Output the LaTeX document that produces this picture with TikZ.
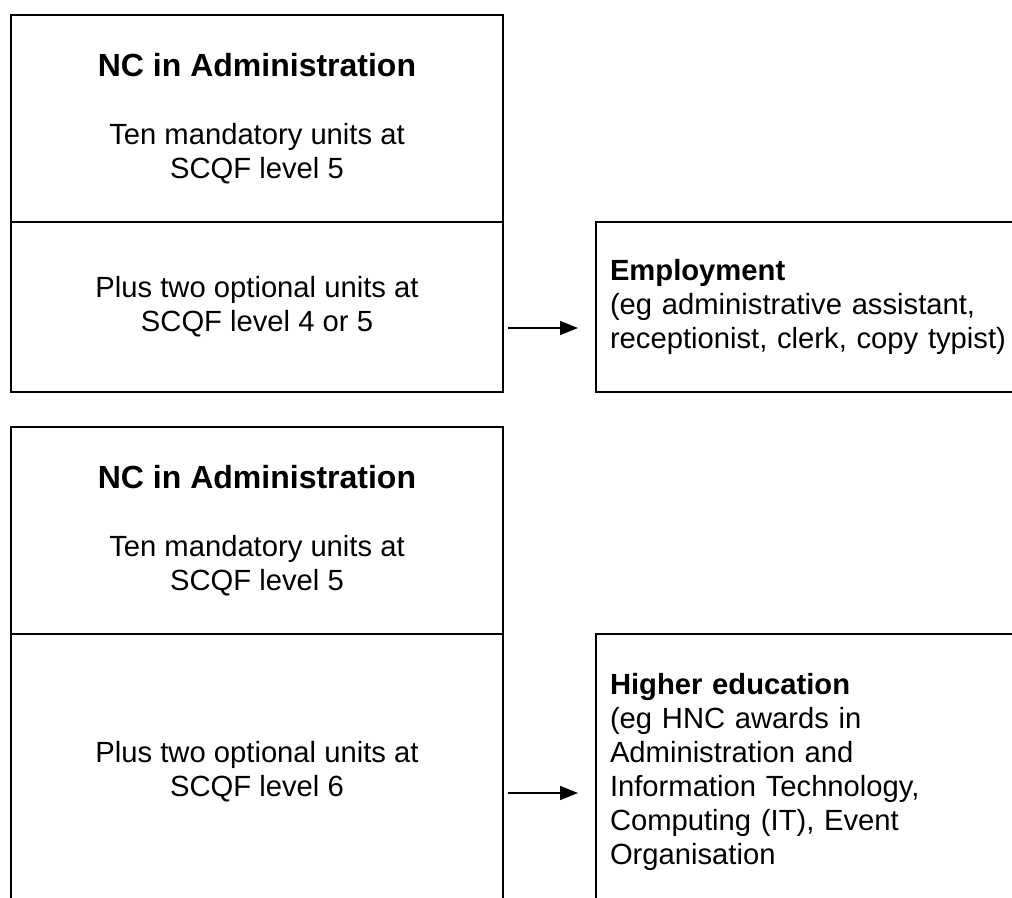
\documentclass[tikz,border=0pt]{standalone}
\usepackage{fontspec}
\setmainfont{Liberation Sans}
\usetikzlibrary{arrows.meta,positioning}

\tikzset{
  part/.style={draw, line width=1.1pt, inner sep=0pt, outer sep=0pt,
    minimum width=246pt, align=center, anchor=north west,
    font=\fontsize{14.6}{17}\selectfont},
  route/.style={draw, line width=1.1pt, inner xsep=7pt, inner ysep=0pt,
    outer sep=0pt, text width=208pt, align=left, anchor=north west,
    font=\fontsize{14.6}{17}\selectfont},
  flow/.style={-{Triangle[length=9pt,width=7pt]}, line width=0.8pt}
}
\newcommand{\awardname}{{\fontsize{16}{17}\selectfont\bfseries NC in Administration}}

\begin{document}
\begin{tikzpicture}[x=0.5pt,y=-0.5pt]
	\path[use as bounding box, clip] (0,0) rectangle (1012,898);
	% route into employment
	\node[part, minimum height=103.5pt] (coreA) at (11,15) {\awardname\\[17pt]Ten mandatory units at\\SCQF level 5};
	\node[part, minimum height=85pt, below=0pt of coreA] (optA) {Plus two optional units at\\SCQF level 4 or 5};
	\node[route, minimum height=85pt] (jobs) at (596,222) {\textbf{Employment}\\(eg administrative assistant,\\receptionist, clerk, copy typist)};
	\draw[flow] ([xshift=2.5pt,yshift=-10.5pt]optA.east) -- ([xshift=-9pt,yshift=-10.5pt]optA.east -| jobs.west);
	% route into higher education
	\node[part, minimum height=103.5pt] (coreB) at (11,427) {\awardname\\[17pt]Ten mandatory units at\\SCQF level 5};
	\node[part, minimum height=138pt, below=0pt of coreB] (optB) {Plus two optional units at\\SCQF level 6};
	\node[route, minimum height=138pt] (study) at (596,634) {\textbf{Higher education}\\(eg HNC awards in\\Administration and\\Information Technology,\\Computing (IT), Event\\Organisation};
	\draw[flow] ([xshift=2.5pt,yshift=-10.5pt]optB.east) -- ([xshift=-9pt,yshift=-10.5pt]optB.east -| study.west);
\end{tikzpicture}
\end{document}
